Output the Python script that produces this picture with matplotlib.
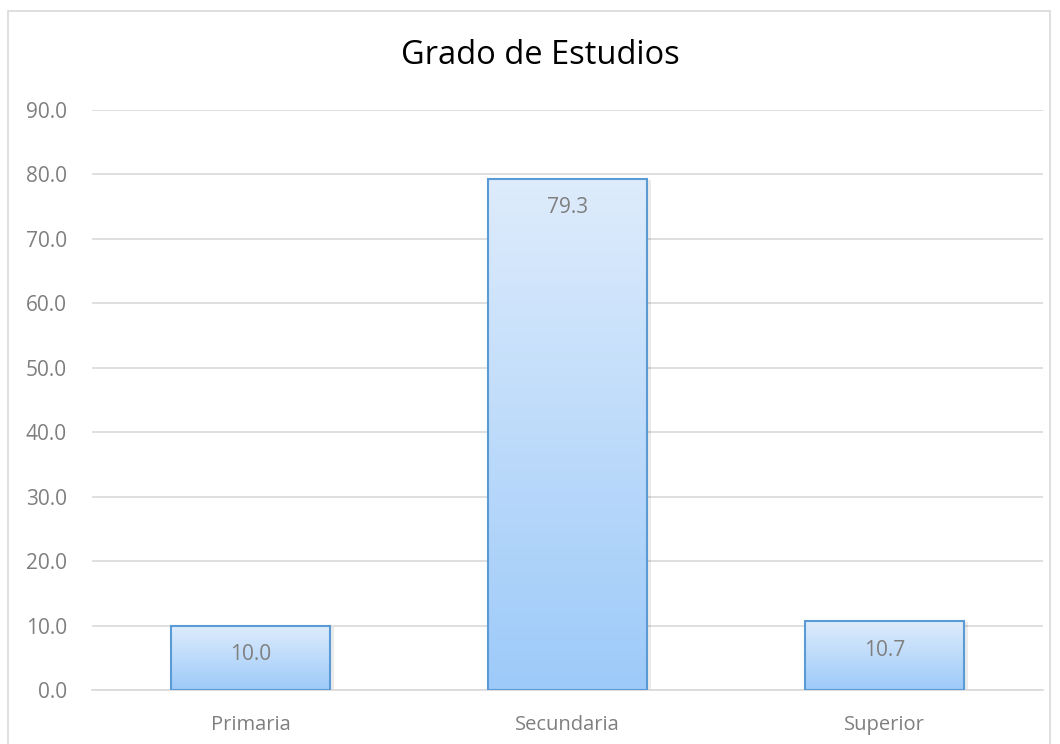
import matplotlib.pyplot as plt
import numpy as np
from matplotlib.patches import Rectangle
from matplotlib.colors import LinearSegmentedColormap

categorias = ['Primaria', 'Secundaria', 'Superior']
porcentajes = [10.0, 79.3, 10.7]

plt.rcParams['font.family'] = ['Open Sans', 'DejaVu Sans']

fig = plt.figure(figsize=(10.6, 7.44), dpi=100)
ax = fig.add_axes([92 / 1060, 1 - 690 / 744, (1043 - 92) / 1060, (690 - 110) / 744])

# borde del área del gráfico
fig.patches.append(Rectangle((8 / 1060, -0.05), (1050 - 8) / 1060, 1.05 - 11 / 744,
                             transform=fig.transFigure, fill=False,
                             edgecolor='#D9D9D9', linewidth=1.2))

gradiente = LinearSegmentedColormap.from_list('g', ['#9DCAF9', '#DEECFC'])
grad = np.linspace(0, 1, 256).reshape(-1, 1)

x = np.arange(len(categorias))
ancho = 0.5
barras = ax.bar(x, porcentajes, width=ancho, color='none', edgecolor='#5B9BD5',
                linewidth=1.5, zorder=3)
for b, v in zip(barras, porcentajes):
    x0 = b.get_x()
    # sombra suave
    ax.add_patch(Rectangle((x0 + 0.012, -0.5), ancho, v + 0.3, facecolor='#000000',
                           alpha=0.08, edgecolor='none', zorder=2))
    im = ax.imshow(grad, cmap=gradiente, extent=[x0, x0 + ancho, 0, v],
                   origin='lower', aspect='auto', zorder=2.5)
    im.set_clip_path(b)
    ax.text(b.get_x() + ancho / 2, v - 4.5, f'{v:.1f}', ha='center', va='center',
            fontsize=15, color='#7F7F7F', zorder=4)

ax.set_xlim(-0.5, 2.5)
ax.set_ylim(0, 90)
ax.set_yticks(np.arange(0, 91, 10))
ax.set_yticklabels([f'{t:.1f}' for t in np.arange(0, 91, 10)])
ax.set_xticks(x)
ax.set_xticklabels(categorias)
ax.tick_params(axis='both', length=0, labelcolor='#7F7F7F')
ax.tick_params(axis='y', pad=18, labelsize=15)
ax.tick_params(axis='x', pad=18, labelsize=14.5)
ax.grid(axis='y', color='#D9D9D9', linewidth=1.2, zorder=0)
for s in ['top', 'right', 'left']:
    ax.spines[s].set_visible(False)
ax.spines['bottom'].set_color('#D9D9D9')
ax.spines['bottom'].set_linewidth(1.2)

fig.text(540 / 1060, 1 - 56 / 744, 'Grado de Estudios', ha='center', va='center',
         fontsize=23.5, color='#000000')

fig.savefig('out.png', dpi=100)
